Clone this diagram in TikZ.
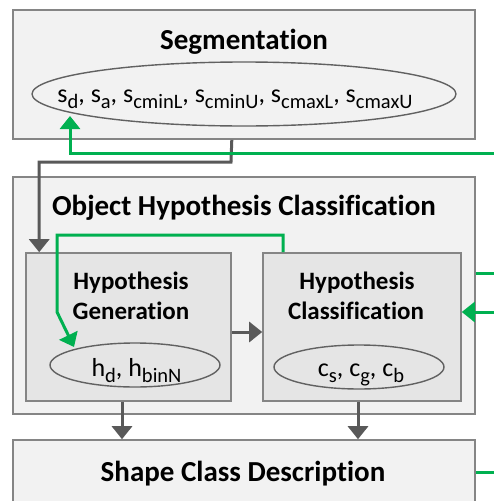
\documentclass[tikz,border=0pt]{standalone}
\usepackage{fontspec}
\setmainfont{Carlito}[Ligatures=CommonOff]
\usetikzlibrary{arrows.meta,shapes.geometric}
\definecolor{feedgreen}{HTML}{00B050}
\definecolor{flowgray}{HTML}{595959}
% lowered index used in the variable lists
\newcommand\lowsub[1]{\raisebox{-6pt}{\fontsize{20.5}{20.5}\selectfont #1}}
\begin{document}
\begin{tikzpicture}[x=1pt,y=-1pt,
  outerbox/.style={draw=black!48,line width=1.6pt,fill=black!5,rectangle,inner sep=0pt},
  innerbox/.style={draw=black!48,line width=1.6pt,fill=black!10,rectangle,inner sep=0pt},
  varell/.style={draw=black!62,line width=1.4pt,ellipse,inner sep=0pt},
  titletext/.style={font=\fontsize{29}{30}\selectfont\bfseries,inner sep=0pt,anchor=base},
  subtitle/.style={font=\fontsize{25}{30}\selectfont\bfseries,inner sep=0pt,anchor=base},
  vartext/.style={font=\fontsize{26}{28}\selectfont,inner sep=0pt,anchor=base},
  flow/.style={draw=flowgray,line width=3pt,-{Triangle[width=20pt,length=13pt]}},
  feed/.style={draw=feedgreen,line width=3pt,-{Triangle[width=20pt,length=13pt]}},
  feedline/.style={draw=feedgreen,line width=3pt},
]
\clip (0,0) rectangle (494,501);
\fill[white] (0,0) rectangle (494,501);

% Segmentation block
\node[outerbox,minimum width=462pt,minimum height=129pt] (seg) at (244,74.5) {};
\node[titletext] (segT) at (244,49) {Segmentation};
\node[varell,fill=black!5,minimum width=424pt,minimum height=64pt] (segE) at (244,94) {};
\node[vartext] (segV) at (235,102) {s\lowsub{d}, s\lowsub{a}, s\lowsub{cminL}, s\lowsub{cminU}, s\lowsub{cmaxL}, s\lowsub{cmaxU}};

% Object hypothesis classification block
\node[outerbox,minimum width=462pt,minimum height=237pt] (ohc) at (244,295.5) {};
\node[titletext] (ohcT) at (244,215) {Object Hypothesis Classification};

\node[innerbox,minimum width=205pt,minimum height=148pt] (gen) at (128.5,327) {};
\node[subtitle] (genT1) at (131,289) {Hypothesis};
\node[subtitle] (genT2) at (131,319) {Generation};
\node[varell,fill=black!10,minimum width=170pt,minimum height=44pt] (genE) at (135,365) {};
\node[vartext] (genV) at (136.5,376.5) {h\lowsub{d}, h\lowsub{binN}};

\node[innerbox,minimum width=198pt,minimum height=148pt] (cls) at (362,327) {};
\node[subtitle] (clsT1) at (357,289) {Hypothesis};
\node[subtitle] (clsT2) at (356,319) {Classification};
\node[varell,fill=black!10,minimum width=170pt,minimum height=44pt] (clsE) at (359,367) {};
\node[vartext] (clsV) at (361,376.5) {c\lowsub{s}, c\lowsub{g}, c\lowsub{b}};

% Shape class description block
\node[outerbox,minimum width=462pt,minimum height=120pt] (scd) at (244,500) {};
\node[titletext] (scdT) at (243,481) {Shape Class Description};

% control flow
\coordinate (bend1) at (231,162);
\draw[flow] (seg.south -| gen.east) -- (bend1) -| ([xshift=14pt]gen.north west);
\draw[flow] ([yshift=-5pt]gen.east) -- ([yshift=-5pt]cls.west);
\draw[flow] (gen.south -| 122,0) -- (scd.north -| 122,0);
\draw[flow] (cls.south -| 358,0) -- (scd.north -| 358,0);

% feedback paths
\coordinate (in1) at (494,153);
\coordinate (sdTip) at (70,116);
\draw[feed] (in1) -| (sdTip);

\coordinate (loopA) at (57,235);
\coordinate (loopB) at (57,312);
\coordinate (hdTip) at (74,347);
\draw[feed] ([xshift=21pt]cls.north west) |- (loopA) -- (loopB) -- (hdTip);

\coordinate (out1) at (494,273);
\draw[feedline] (ohc.east |- out1) -- (out1);
\coordinate (in2) at (494,312);
\draw[feed] (in2) -- (cls.east |- in2);
\coordinate (out2) at (494,472);
\draw[feedline] (scd.east |- out2) -- (out2);
\end{tikzpicture}
\end{document}
